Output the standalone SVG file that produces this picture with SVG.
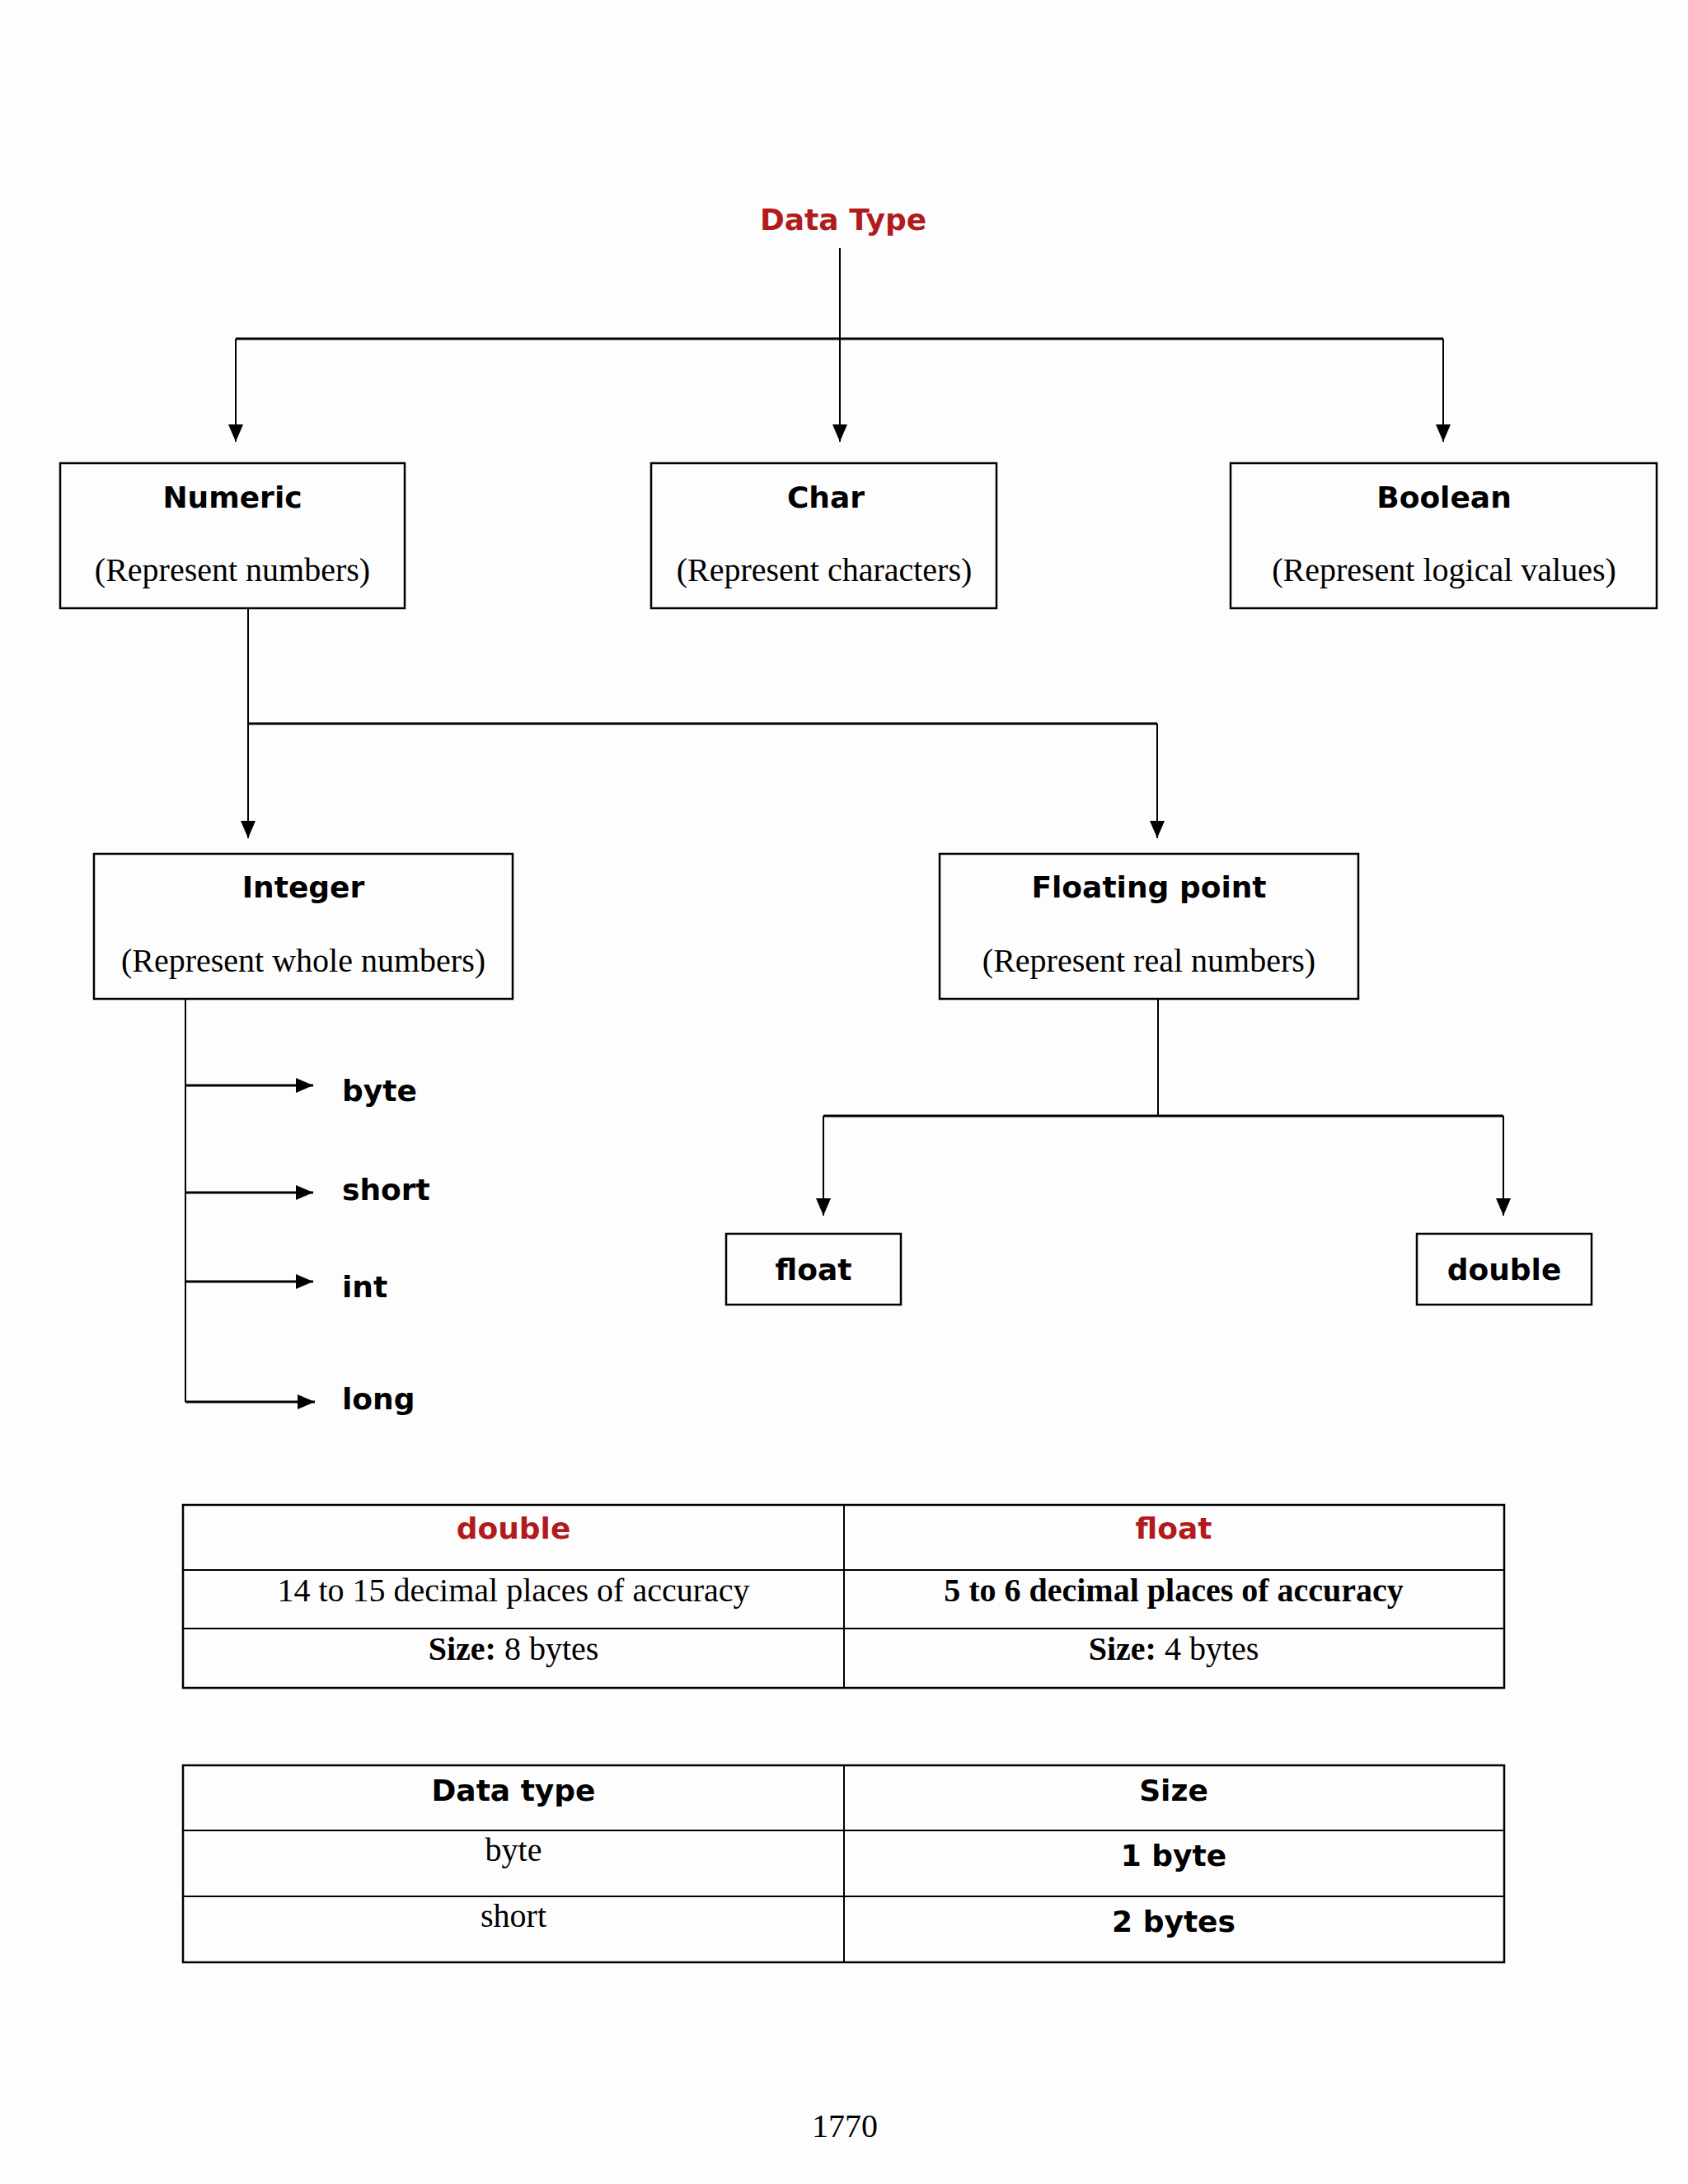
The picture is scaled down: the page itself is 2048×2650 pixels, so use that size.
<svg xmlns="http://www.w3.org/2000/svg" width="2048" height="2650" viewBox="0 0 2048 2650">
<defs>
<style>
.bg{fill:#fefdfe}
.box{fill:none;stroke:#000;stroke-width:2.5}
.ln{fill:none;stroke:#000;stroke-width:2}
.hl{fill:none;stroke:#000;stroke-width:3}
.ar{fill:none;stroke:#000;stroke-width:2;marker-end:url(#ah)}
.arh{fill:none;stroke:#000;stroke-width:3;marker-end:url(#ah)}
.h{font-family:"DejaVu Sans",Verdana,sans-serif;font-weight:bold;font-size:36px;fill:#000}
.red{fill:#b21b1c}
.s{font-family:"Liberation Serif","Times New Roman",serif;font-size:40px;fill:#000}
.sb{font-family:"Liberation Serif","Times New Roman",serif;font-size:40px;font-weight:bold;fill:#000}
.c{text-anchor:middle}
</style>
<marker id="ah" markerUnits="userSpaceOnUse" markerWidth="21" markerHeight="18" refX="21" refY="9" orient="auto" viewBox="0 0 21 18">
<path d="M0,0 L21,9 L0,18 z" fill="#000"/>
</marker>
</defs>
<rect class="bg" x="0" y="0" width="2048" height="2650"/>

<g id="connectors">
<path class="ln" d="M1019,301 V411"/>
<path class="hl" d="M286,411 H1751"/>
<path class="ar" d="M286,411 V536"/>
<path class="ar" d="M1019,411 V536"/>
<path class="ar" d="M1751,411 V536"/>
<path class="ln" d="M301,738 V878"/>
<path class="hl" d="M301,878 H1404"/>
<path class="ar" d="M301,878 V1017"/>
<path class="ar" d="M1404,878 V1017"/>
<path class="ln" d="M225,1212 V1701"/>
<path class="arh" d="M225,1317 H380"/>
<path class="arh" d="M225,1447 H380"/>
<path class="arh" d="M225,1555 H380"/>
<path class="arh" d="M225,1701 H382"/>
<path class="ln" d="M1405,1212 V1354"/>
<path class="hl" d="M999,1354 H1824"/>
<path class="ar" d="M999,1354 V1475"/>
<path class="ar" d="M1824,1354 V1475"/>
</g>

<g id="datatype">
<text class="h red c" x="1023" y="279">Data Type</text>
</g>

<g id="numeric">
<rect class="box" x="73" y="562" width="418" height="176"/>
<text class="h c" x="282" y="616">Numeric</text>
<text class="s c" x="282" y="705">(Represent numbers)</text>
</g>

<g id="char">
<rect class="box" x="790" y="562" width="419" height="176"/>
<text class="h c" x="1002" y="616">Char</text>
<text class="s c" x="1000" y="705">(Represent characters)</text>
</g>

<g id="boolean">
<rect class="box" x="1493" y="562" width="517" height="176"/>
<text class="h c" x="1752" y="616">Boolean</text>
<text class="s c" x="1752" y="705">(Represent logical values)</text>
</g>

<g id="integer">
<rect class="box" x="114" y="1036" width="508" height="176"/>
<text class="h c" x="368" y="1089">Integer</text>
<text class="s c" x="368" y="1179">(Represent whole numbers)</text>
</g>

<g id="floatingpoint">
<rect class="box" x="1140" y="1036" width="508" height="176"/>
<text class="h c" x="1394" y="1089">Floating point</text>
<text class="s c" x="1394" y="1179">(Represent real numbers)</text>
</g>

<g id="byte"><text class="h" x="415" y="1336">byte</text></g>
<g id="short"><text class="h" x="415" y="1456">short</text></g>
<g id="int"><text class="h" x="415" y="1574">int</text></g>
<g id="long"><text class="h" x="415" y="1710">long</text></g>

<g id="float">
<rect class="box" x="881" y="1497" width="212" height="86"/>
<text class="h c" x="987" y="1553">float</text>
</g>

<g id="double">
<rect class="box" x="1719" y="1497" width="212" height="86"/>
<text class="h c" x="1825" y="1553">double</text>
</g>

<g id="table1">
<rect class="box" x="222" y="1826" width="1603" height="222"/>
<path class="ln" d="M222,1905 H1825 M222,1976 H1825 M1024,1826 V2048"/>
<text class="h red c" x="623" y="1867">double</text>
<text class="h red c" x="1424" y="1867">float</text>
<text class="s c" x="623" y="1943">14 to 15 decimal places of accuracy</text>
<text class="sb c" x="1424" y="1943">5 to 6 decimal places of accuracy</text>
<text class="s c" x="623" y="2014"><tspan font-weight="bold">Size:</tspan> 8 bytes</text>
<text class="s c" x="1424" y="2014"><tspan font-weight="bold">Size:</tspan> 4 bytes</text>
</g>

<g id="table2">
<rect class="box" x="222" y="2142" width="1603" height="239"/>
<path class="ln" d="M222,2221 H1825 M222,2301 H1825 M1024,2142 V2381"/>
<text class="h c" x="623" y="2185">Data type</text>
<text class="h c" x="1424" y="2185">Size</text>
<text class="s c" x="623" y="2258">byte</text>
<text class="h c" x="1424" y="2264">1 byte</text>
<text class="s c" x="623" y="2338">short</text>
<text class="h c" x="1424" y="2344">2 bytes</text>
</g>

<g id="pagenum">
<text class="s c" x="1025" y="2593">1770</text>
</g>
</svg>
